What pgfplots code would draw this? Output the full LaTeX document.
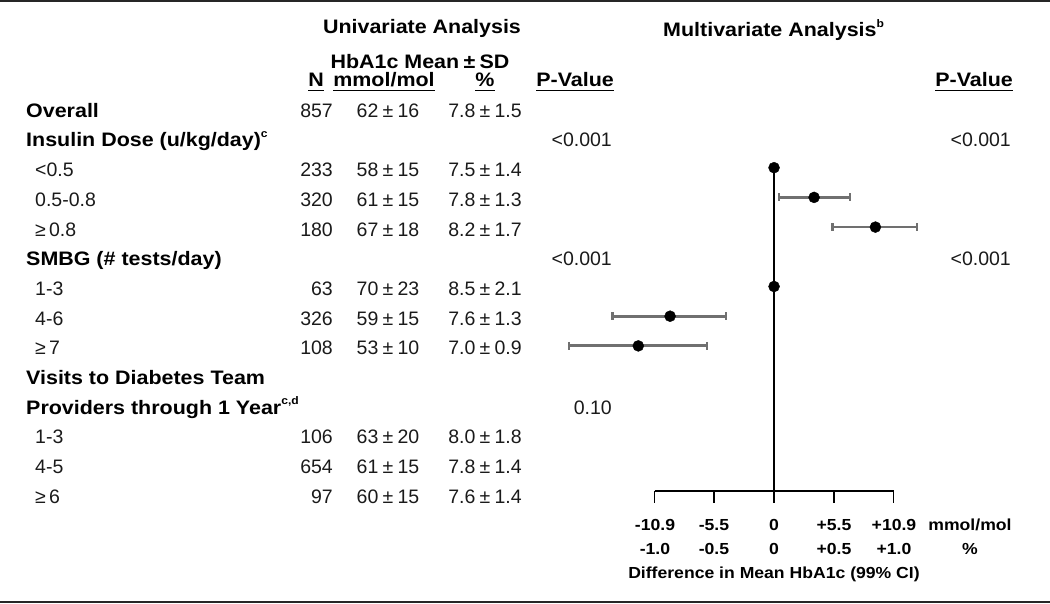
\documentclass[border=0pt]{standalone}
\usepackage{pgfplots}
\pgfplotsset{compat=1.18}
\usepackage{pgfplotstable}
\usepackage{fontspec}
\setmainfont{Liberation Sans}[BoldFeatures={FakeStretch=1.1}]
\definecolor{cigray}{HTML}{707070}
\definecolor{txt}{HTML}{1A1A1A}
\newcommand\reg{\fontsize{19.5}{21}\selectfont\color{txt}}
\newcommand\hd{\fontsize{19.5}{21}\selectfont\bfseries}
\newcommand\ax{\fontsize{16}{18}\selectfont\bfseries}
\newcommand\sups[1]{\raisebox{9.5pt}{\fontsize{11}{11}\selectfont\bfseries #1}}
\newcommand\ul[1]{\setbox0\hbox{#1}\rlap{\rule[-4.3pt]{\wd0}{1.5pt}}\box0}
\newcommand\pmv{\hspace{0.22em}±\hspace{0.22em}}
% multivariate estimates (difference in mean HbA1c, %), y = -row index
\pgfplotstableread{
est    y
0      -2
0.335  -3
0.848  -4
0      -6
-0.870 -7
-1.136 -8
}\estdata
\pgfplotsset{ci/.style={cigray, line width=2.8pt, mark=|, mark size=4pt,
  mark options={line width=2.4pt, cigray}}}
\begin{document}
\begin{tikzpicture}[x=1pt,y=1pt]
\useasboundingbox (0,0) rectangle (1050,603);
\begin{axis}[at={(0,0)}, anchor=south west, scale only axis,
  width=1050pt, height=603pt,
  xmin=-6.4770, xmax=2.3096, ymin=-16.657, ymax=3.6465,
  hide axis, clip=false]
  % reference line and x axis
  \addplot[black, line width=1.8pt] coordinates {(0,-2) (0,-12.886)};
  \addplot[black, line width=1.8pt] coordinates {(-1,-12.886) (1,-12.886)};
  \pgfplotsinvokeforeach{-1,-0.5,0,0.5,1}{
    \draw[black, line width=1.8pt] (axis cs:#1,-12.886) -- (axis cs:#1,-13.29);
  }
  % 99% confidence intervals
  \addplot[ci] coordinates {(0.040,-3) (0.636,-3)};
  \addplot[ci] coordinates {(0.488,-4) (1.194,-4)};
  \addplot[ci] coordinates {(-1.353,-7) (-0.402,-7)};
  \addplot[ci] coordinates {(-1.715,-8) (-0.563,-8)};
  % point estimates
  \addplot[only marks, mark=*, mark size=5.5pt, black] table[x=est, y=y] {\estdata};
\end{axis}
% frame lines
\draw[line width=1.8pt, black!85] (0,602) -- (1050,602);
\draw[line width=1.8pt, black!85] (0,1.2) -- (1050,1.2);
\begin{scope}[every node/.style={inner sep=0pt}]
% headers
\node[anchor=base] at (422,569) {\hd Univariate Analysis};
\node[anchor=base west] at (663,566) {\hd Multivariate Analysis\sups{b}};
\node[anchor=base] at (420,534) {\hd HbA1c Mean\pmv SD};
\node[anchor=base] at (316,516) {\hd\ul{N}};
\node[anchor=base] at (384,516) {\hd\ul{mmol/mol}};
\node[anchor=base] at (485,516) {\hd\ul{\%}};
\node[anchor=base east] at (614,516) {\hd\ul{P-Value}};
\node[anchor=base east] at (1013,516) {\hd\ul{P-Value}};
% rows: baseline y = 485.7 - 29.7 r
\node[anchor=base west] at (26,{485.7-29.7*0}) {\hd Overall};
\node[anchor=base east] at (333,{485.7-29.7*0}) {\reg 857};
\node[anchor=base] at (388,{485.7-29.7*0}) {\reg 62\pmv 16};
\node[anchor=base] at (485,{485.7-29.7*0}) {\reg 7.8\pmv 1.5};
\node[anchor=base west] at (26,{485.7-29.7*1}) {\hd Insulin Dose (u/kg/day)\sups{c}};
\node[anchor=base east] at (612,{485.7-29.7*1}) {\reg <0.001};
\node[anchor=base east] at (1011,{485.7-29.7*1}) {\reg <0.001};
\node[anchor=base west] at (35,{485.7-29.7*2}) {\reg <0.5};
\node[anchor=base east] at (333,{485.7-29.7*2}) {\reg 233};
\node[anchor=base] at (388,{485.7-29.7*2}) {\reg 58\pmv 15};
\node[anchor=base] at (485,{485.7-29.7*2}) {\reg 7.5\pmv 1.4};
\node[anchor=base west] at (35,{485.7-29.7*3}) {\reg 0.5-0.8};
\node[anchor=base east] at (333,{485.7-29.7*3}) {\reg 320};
\node[anchor=base] at (388,{485.7-29.7*3}) {\reg 61\pmv 15};
\node[anchor=base] at (485,{485.7-29.7*3}) {\reg 7.8\pmv 1.3};
\node[anchor=base west] at (35,{485.7-29.7*4}) {\reg ≥\,0.8};
\node[anchor=base east] at (333,{485.7-29.7*4}) {\reg 180};
\node[anchor=base] at (388,{485.7-29.7*4}) {\reg 67\pmv 18};
\node[anchor=base] at (485,{485.7-29.7*4}) {\reg 8.2\pmv 1.7};
\node[anchor=base west] at (26,{485.7-29.7*5}) {\hd SMBG (\# tests/day)};
\node[anchor=base east] at (612,{485.7-29.7*5}) {\reg <0.001};
\node[anchor=base east] at (1011,{485.7-29.7*5}) {\reg <0.001};
\node[anchor=base west] at (35,{485.7-29.7*6}) {\reg 1-3};
\node[anchor=base east] at (333,{485.7-29.7*6}) {\reg 63};
\node[anchor=base] at (388,{485.7-29.7*6}) {\reg 70\pmv 23};
\node[anchor=base] at (485,{485.7-29.7*6}) {\reg 8.5\pmv 2.1};
\node[anchor=base west] at (35,{485.7-29.7*7}) {\reg 4-6};
\node[anchor=base east] at (333,{485.7-29.7*7}) {\reg 326};
\node[anchor=base] at (388,{485.7-29.7*7}) {\reg 59\pmv 15};
\node[anchor=base] at (485,{485.7-29.7*7}) {\reg 7.6\pmv 1.3};
\node[anchor=base west] at (35,{485.7-29.7*8}) {\reg ≥\,7};
\node[anchor=base east] at (333,{485.7-29.7*8}) {\reg 108};
\node[anchor=base] at (388,{485.7-29.7*8}) {\reg 53\pmv 10};
\node[anchor=base] at (485,{485.7-29.7*8}) {\reg 7.0\pmv 0.9};
\node[anchor=base west] at (26,{485.7-29.7*9}) {\hd Visits to Diabetes Team};
\node[anchor=base west] at (26,{485.7-29.7*10}) {\hd Providers through 1 Year\sups{c,d}};
\node[anchor=base east] at (612,{485.7-29.7*10}) {\reg 0.10};
\node[anchor=base west] at (35,{485.7-29.7*11}) {\reg 1-3};
\node[anchor=base east] at (333,{485.7-29.7*11}) {\reg 106};
\node[anchor=base] at (388,{485.7-29.7*11}) {\reg 63\pmv 20};
\node[anchor=base] at (485,{485.7-29.7*11}) {\reg 8.0\pmv 1.8};
\node[anchor=base west] at (35,{485.7-29.7*12}) {\reg 4-5};
\node[anchor=base east] at (333,{485.7-29.7*12}) {\reg 654};
\node[anchor=base] at (388,{485.7-29.7*12}) {\reg 61\pmv 15};
\node[anchor=base] at (485,{485.7-29.7*12}) {\reg 7.8\pmv 1.4};
\node[anchor=base west] at (35,{485.7-29.7*13}) {\reg ≥\,6};
\node[anchor=base east] at (333,{485.7-29.7*13}) {\reg 97};
\node[anchor=base] at (388,{485.7-29.7*13}) {\reg 60\pmv 15};
\node[anchor=base] at (485,{485.7-29.7*13}) {\reg 7.6\pmv 1.4};
% x-axis labels
\node[anchor=base] at (655,72.3) {\ax -10.9};
\node[anchor=base] at (714,72.3) {\ax -5.5};
\node[anchor=base] at (774,72.3) {\ax 0};
\node[anchor=base] at (834,72.3) {\ax +5.5};
\node[anchor=base] at (894,72.3) {\ax +10.9};
\node[anchor=base] at (970,72.3) {\ax mmol/mol};
\node[anchor=base] at (655,49) {\ax -1.0};
\node[anchor=base] at (714,49) {\ax -0.5};
\node[anchor=base] at (774,49) {\ax 0};
\node[anchor=base] at (834,49) {\ax +0.5};
\node[anchor=base] at (894,49) {\ax +1.0};
\node[anchor=base] at (970,49) {\ax \%};
\node[anchor=base] at (774,24.7) {\ax Difference in Mean HbA1c (99\% CI)};
\end{scope}
\end{tikzpicture}
\end{document}
